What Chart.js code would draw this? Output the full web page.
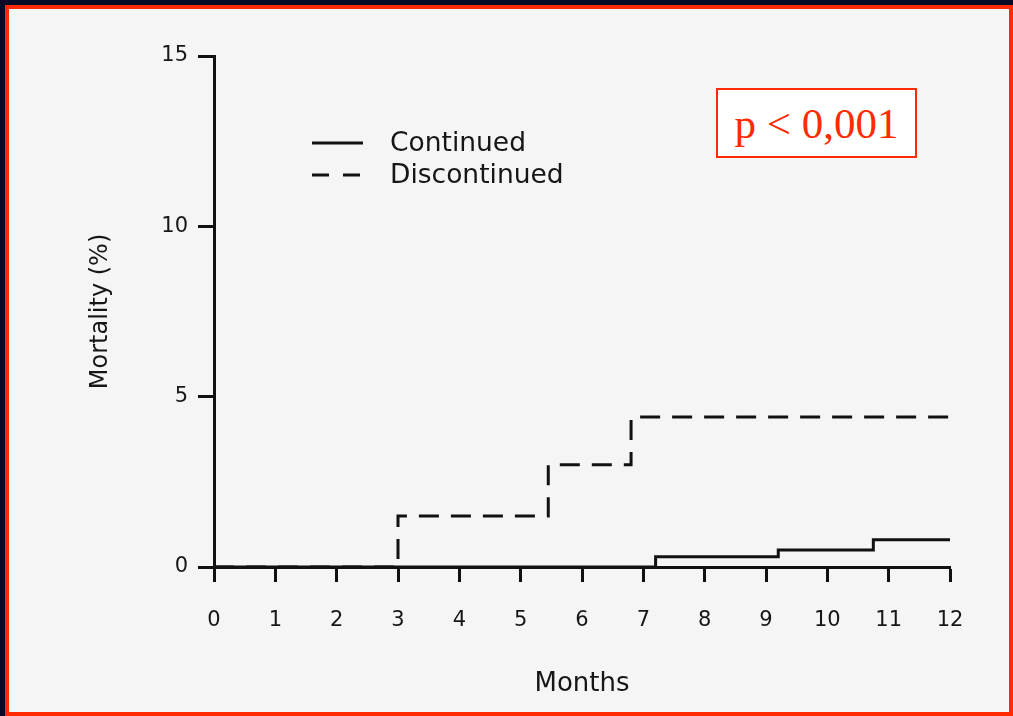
<!DOCTYPE html>
<html>
<head>
<meta charset="utf-8">
<script src="https://cdn.jsdelivr.net/npm/chart.js@4.4.1/dist/chart.umd.min.js"></script>
<style>
  html, body { margin: 0; padding: 0; }
  body { width: 1013px; height: 716px; background: #050b26; position: relative; overflow: hidden; }
  .panel { position: absolute; left: 5px; top: 5px; width: 1000px; height: 703px; border: 4px solid #ff2a00; background: #f5f5f5; }
  #mortality { position: absolute; left: 0; top: 0; }
  .pbox { position: absolute; left: 716px; top: 88px; width: 197px; height: 66px; border: 2px solid #ff2a00; background: #ffffff;
          color: #ff2a00; font-family: "Liberation Serif", "Times New Roman", serif; font-size: 43px; line-height: 68px; text-align: center; }
</style>
</head>
<body>
<div class="panel"></div>
<canvas id="mortality" width="1013" height="716"></canvas>
<div class="pbox">p &lt; 0,001</div>
<script>
// months of each step, and the cumulative mortality (%) after it
var continuedMonths = [0, 7.2, 9.2, 10.75, 12];
var continuedValues = [0, 0.3, 0.5, 0.8, 0.8];
var discontinuedMonths = [0, 3, 5.45, 6.8, 12];
var discontinuedValues = [0, 1.5, 3.0, 4.4, 4.4];
var seriesNames = ["Continued", "Discontinued"];
var xTicks = [0, 1, 2, 3, 4, 5, 6, 7, 8, 9, 10, 11, 12];
var yTicks = [0, 5, 10, 15];

var ink = "#111111";
var textColor = "#161616";

function toPoints(xs, ys) {
    var pts = [];
    for (var i = 0; i < xs.length; i++) {
        pts.push({ x: xs[i], y: ys[i] });
    }
    return pts;
}

// legend drawn inside the plot, like the original figure
var insideLegend = {
    id: "insideLegend",
    afterDraw: function(chart) {
        var ctx = chart.ctx;
        var rows = [
            { y: 143, dash: chart.data.datasets[0].borderDash || [] },
            { y: 175, dash: [17, 14] }
        ];
        ctx.save();
        rows.forEach(function(row, i) {
            ctx.strokeStyle = ink;
            ctx.lineWidth = 3;
            ctx.setLineDash(row.dash);
            ctx.beginPath();
            ctx.moveTo(312, row.y);
            ctx.lineTo(363, row.y);
            ctx.stroke();
            ctx.setLineDash([]);
            ctx.fillStyle = textColor;
            ctx.font = "26.5px 'DejaVu Sans'";
            ctx.textBaseline = "middle";
            ctx.fillText(seriesNames[i], 390, row.y + 1);
        });
        ctx.restore();
    }
};

new Chart(document.getElementById("mortality"), {
    type: "line",
    data: {
        datasets: [
            {
                label: seriesNames[0],
                data: toPoints(continuedMonths, continuedValues),
                borderColor: ink,
                borderWidth: 3,
                stepped: true,
                pointRadius: 0,
                fill: false
            },
            {
                label: seriesNames[1],
                data: toPoints(discontinuedMonths, discontinuedValues),
                borderColor: ink,
                borderWidth: 3,
                borderDash: [20, 12],
                stepped: true,
                pointRadius: 0,
                fill: false
            }
        ]
    },
    options: {
        responsive: false,
        animation: false,
        layout: { padding: { left: 80, top: 56, right: 63, bottom: 12 } },
        plugins: {
            legend: { display: false },
            tooltip: { enabled: false }
        },
        scales: {
            x: {
                type: "linear",
                min: 0,
                max: 12,
                afterBuildTicks: function(scale) {
                    scale.ticks = xTicks.map(function(v) { return { value: v }; });
                },
                afterFit: function(scale) { scale.height = 137; },
                ticks: { color: textColor, font: { family: "DejaVu Sans", size: 21 }, padding: 26, maxRotation: 0 },
                grid: { drawOnChartArea: false, drawTicks: true, tickLength: 15, tickWidth: 3, tickColor: ink },
                border: { color: ink, width: 3 },
                title: { display: true, text: "Months", color: textColor, font: { family: "DejaVu Sans", size: 26 }, padding: { bottom: 4 } }
            },
            y: {
                min: 0,
                max: 15,
                afterBuildTicks: function(scale) {
                    scale.ticks = yTicks.map(function(v) { return { value: v }; });
                },
                afterFit: function(scale) { scale.width = 134; },
                ticks: { color: textColor, font: { family: "DejaVu Sans", size: 21 }, padding: 10 },
                grid: { drawOnChartArea: false, drawTicks: true, tickLength: 16, tickWidth: 3, tickColor: ink },
                border: { color: ink, width: 3 },
                title: { display: true, text: "Mortality (%)", color: textColor, font: { family: "DejaVu Sans", size: 24 }, padding: { top: 6 } }
            }
        }
    },
    plugins: [insideLegend]
});
</script>
</body>
</html>
